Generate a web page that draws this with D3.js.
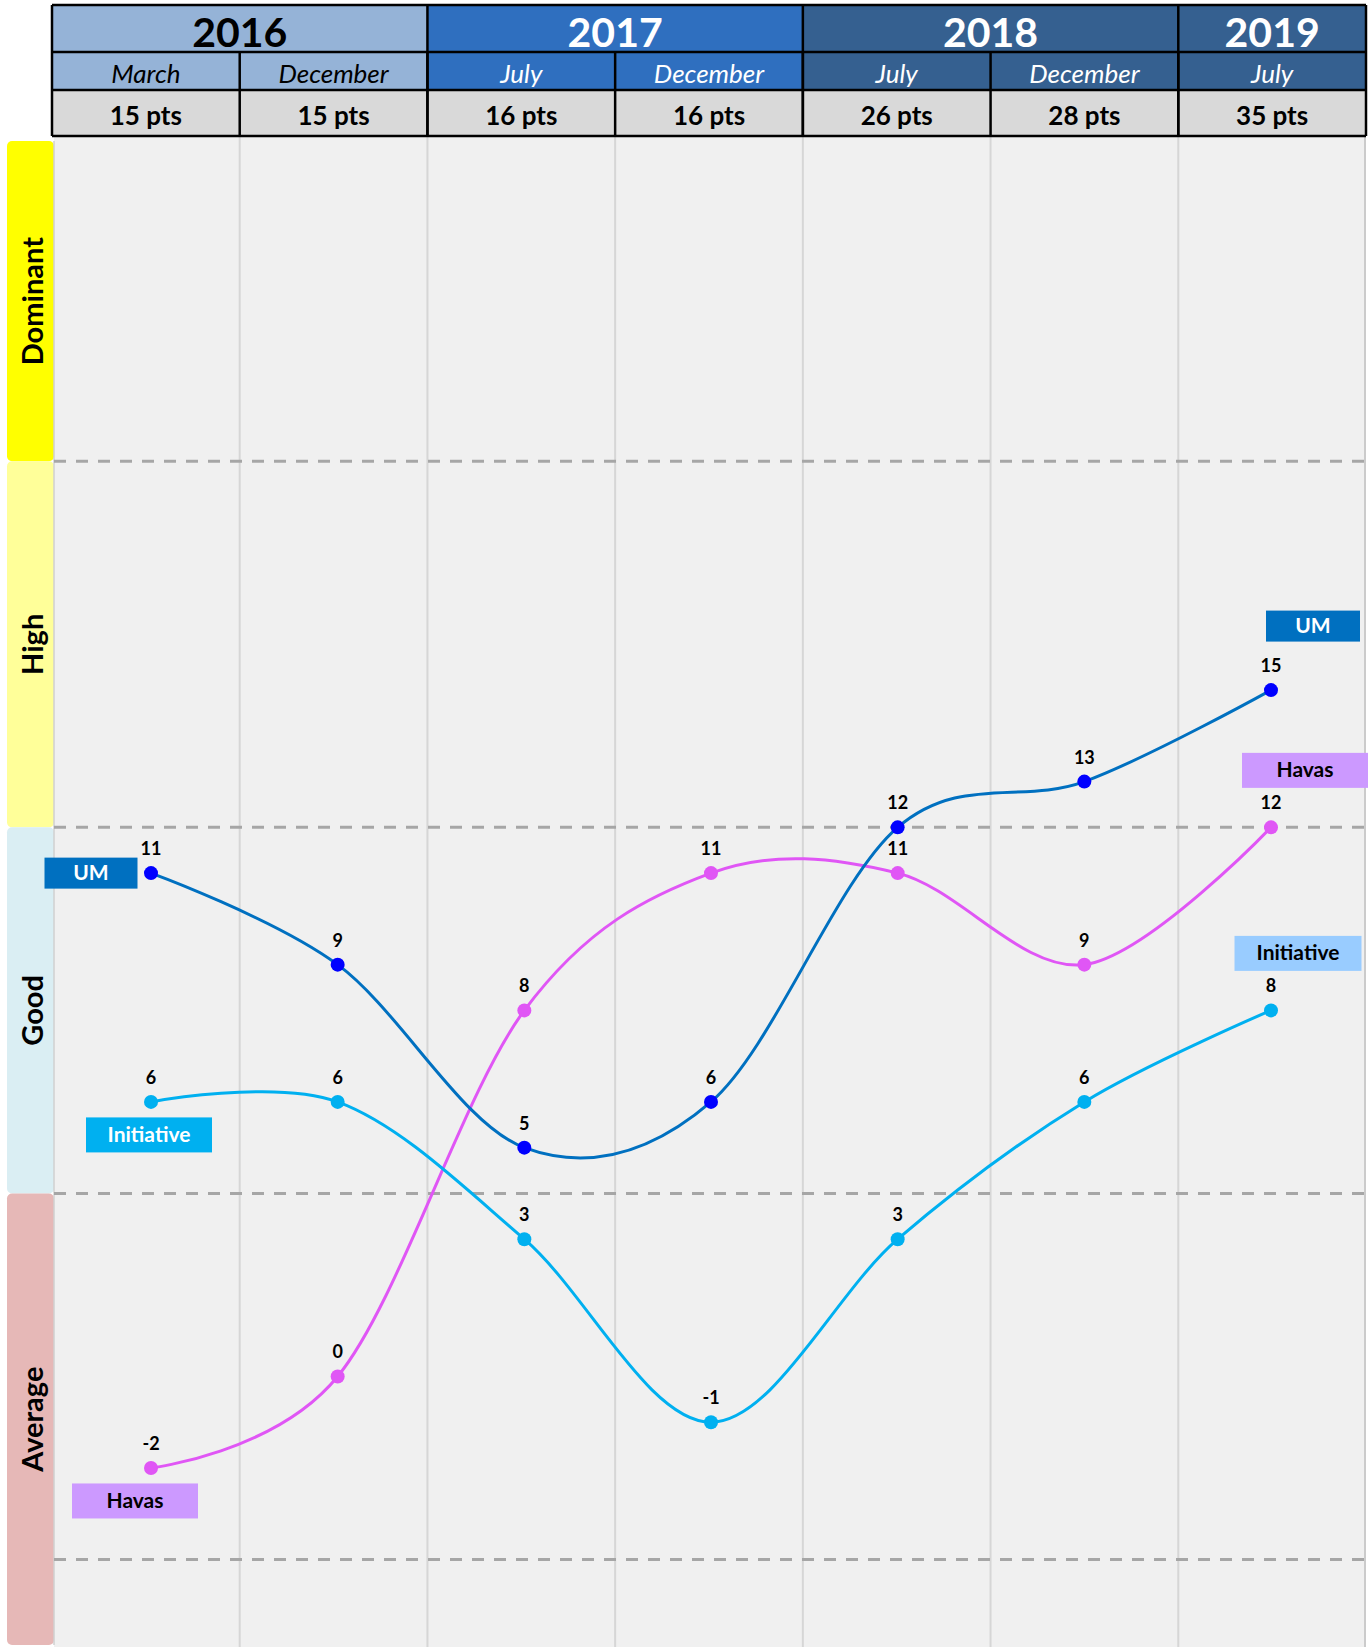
<!DOCTYPE html>
<html>
<head>
<meta charset="utf-8">
<script src="https://cdn.jsdelivr.net/npm/d3@7"></script>
<style>
  html, body { margin: 0; padding: 0; background: #ffffff; }
  svg { display: block; font-family: Lato, "Open Sans", "DejaVu Sans", sans-serif; }
</style>
</head>
<body>
<script>
// ---------------- DATA ----------------
const years = ["2016", "2017", "2018", "2019"];
const yearSpans = [2, 2, 2, 1];
const months = ["March", "December", "July", "December", "July", "December", "July"];
const points = [15, 15, 16, 16, 26, 28, 35];
const periods = ["2016-03", "2016-12", "2017-07", "2017-12", "2018-07", "2018-12", "2019-07"];

const umValues = [11, 9, 5, 6, 12, 13, 15];
const initiativeValues = [6, 6, 3, -1, 3, 6, 8];
const havasValues = [-2, 0, 8, 11, 11, 9, 12];

const bandNames = ["Dominant", "High", "Good", "Average"];
const bandUpper = [27, 20, 12, 4];
const bandLower = [20, 12, 4, -6];
const thresholds = [20, 12, 4, -4];

// ---------------- STYLE ----------------
const W = 1370, H = 1647;
const yearFill = ["#95B3D7", "#2F6FBF", "#356090", "#356090"];
const yearText = ["#000000", "#ffffff", "#ffffff", "#ffffff"];
const bandFill = ["#FFFF00", "#FFFF99", "#DAEEF3", "#E6B8B7"];

const series = [
  { name: "Havas", values: havasValues, line: "#E056F5", dot: "#E056F5",
    left: { box: "#CC99FF", text: "#000", w: 126, h: 35, dx: -16, dy: 33 },
    right: { box: "#CC99FF", text: "#000", w: 126, h: 35, dx: 34, dy: -57 } },
  { name: "Initiative", values: initiativeValues, line: "#00B0F0", dot: "#00B0F0",
    left: { box: "#00B0F0", text: "#fff", w: 126, h: 35, dx: -2, dy: 33 },
    right: { box: "#99CCFF", text: "#000", w: 127, h: 35, dx: 27, dy: -57 } },
  { name: "UM", values: umValues, line: "#0070C0", dot: "#0000FF",
    left: { box: "#0070C0", text: "#fff", w: 93, h: 31, dx: -60, dy: 0 },
    right: { box: "#0070C0", text: "#fff", w: 94, h: 31, dx: 42, dy: -64 } }
];

// ---------------- LAYOUT ----------------
const tableLeft = 52, tableRight = 1366;
const rowY = [5, 52, 90, 136];
const plotTop = 137, plotBottom = 1647;
const stripX0 = 7, stripX1 = 54;

const svg = d3.select("body").append("svg")
  .attr("width", W).attr("height", H);

const xCol = d3.scaleBand().domain(periods).range([tableLeft, tableRight]).padding(0);
const x = d3.scalePoint().domain(periods).range([151, 1271]);
const y = d3.scaleLinear().domain([-6, 27]).range([1651, 141]);

// plot background
svg.append("rect")
  .attr("x", stripX1).attr("y", plotTop)
  .attr("width", tableRight - stripX1).attr("height", plotBottom - plotTop)
  .attr("fill", "#F0F0F0");

// vertical grid lines at column boundaries
svg.append("g").selectAll("line")
  .data(periods.slice(1))
  .join("line")
  .attr("x1", d => xCol(d)).attr("x2", d => xCol(d))
  .attr("y1", plotTop).attr("y2", plotBottom)
  .attr("stroke", "#D6D6D6").attr("stroke-width", 2);

// right border of plot
svg.append("line")
  .attr("x1", tableRight - 1).attr("x2", tableRight - 1)
  .attr("y1", plotTop).attr("y2", plotBottom)
  .attr("stroke", "#BFBFBF").attr("stroke-width", 1.5);

// band strips
const bands = svg.append("g");
bandNames.forEach((name, i) => {
  const top = Math.max(plotTop + 1, y(bandUpper[i]));
  const bot = Math.min(plotBottom - 2, y(bandLower[i]));
  bands.append("rect")
    .attr("x", stripX0).attr("y", top)
    .attr("width", stripX1 - stripX0).attr("height", bot - top)
    .attr("rx", 5)
    .attr("fill", bandFill[i]);
  bands.append("line")
    .attr("x1", stripX1).attr("x2", stripX1)
    .attr("y1", top).attr("y2", bot)
    .attr("stroke", "#D0D0D0").attr("stroke-width", 1.5);
  bands.append("text")
    .attr("transform", `translate(43,${(top + bot) / 2}) rotate(-90)`)
    .attr("text-anchor", "middle")
    .attr("font-size", 29).attr("font-weight", 700)
    .attr("fill", "#000")
    .text(name);
});

// dashed threshold lines
svg.append("g").selectAll("line")
  .data(thresholds)
  .join("line")
  .attr("x1", stripX1).attr("x2", tableRight)
  .attr("y1", d => y(d)).attr("y2", d => y(d))
  .attr("stroke", "#A6A6A6").attr("stroke-width", 3)
  .attr("stroke-dasharray", "12 10");

// ---------------- HEADER ----------------
const header = svg.append("g");
// year row
let colIdx = 0;
years.forEach((yr, i) => {
  const x0 = xCol(periods[colIdx]);
  const x1 = xCol(periods[colIdx + yearSpans[i] - 1]) + xCol.bandwidth();
  header.append("rect")
    .attr("x", x0).attr("y", rowY[0])
    .attr("width", x1 - x0).attr("height", rowY[2] - rowY[0])
    .attr("fill", yearFill[i]);
  header.append("text")
    .attr("x", (x0 + x1) / 2).attr("y", rowY[1] - 5)
    .attr("text-anchor", "middle")
    .attr("font-size", 41).attr("font-weight", 700)
    .attr("fill", yearText[i])
    .text(yr);
  for (let k = 0; k < yearSpans[i]; k++) {
    const p = periods[colIdx + k];
    header.append("text")
      .attr("x", xCol(p) + xCol.bandwidth() / 2).attr("y", rowY[2] - 7)
      .attr("text-anchor", "middle")
      .attr("font-size", 26).attr("font-style", "italic")
      .attr("fill", yearText[i])
      .text(months[colIdx + k]);
  }
  colIdx += yearSpans[i];
});
// pts row
header.selectAll("rect.pts")
  .data(periods)
  .join("rect")
  .attr("class", "pts")
  .attr("x", d => xCol(d)).attr("y", rowY[2])
  .attr("width", xCol.bandwidth()).attr("height", rowY[3] - rowY[2])
  .attr("fill", "#D9D9D9");
header.selectAll("text.pts")
  .data(periods)
  .join("text")
  .attr("class", "pts")
  .attr("x", d => xCol(d) + xCol.bandwidth() / 2).attr("y", rowY[3] - 11)
  .attr("text-anchor", "middle")
  .attr("font-size", 26).attr("font-weight", 700)
  .attr("fill", "#000")
  .text((d, i) => points[i] + " pts");

// header borders
const bStroke = "#000", bW = 2.5;
rowY.forEach(ry => {
  header.append("line")
    .attr("x1", tableLeft).attr("x2", tableRight)
    .attr("y1", ry).attr("y2", ry)
    .attr("stroke", bStroke).attr("stroke-width", bW);
});
// outer verticals
[tableLeft, tableRight].forEach(bx => {
  header.append("line")
    .attr("x1", bx).attr("x2", bx)
    .attr("y1", rowY[0]).attr("y2", rowY[3])
    .attr("stroke", bStroke).attr("stroke-width", bW);
});
// year separators (full height)
colIdx = 0;
yearSpans.slice(0, -1).forEach(s => {
  colIdx += s;
  const bx = xCol(periods[colIdx]);
  header.append("line")
    .attr("x1", bx).attr("x2", bx)
    .attr("y1", rowY[0]).attr("y2", rowY[3])
    .attr("stroke", bStroke).attr("stroke-width", bW);
});
// month separators (lower rows)
periods.slice(1).forEach(p => {
  const bx = xCol(p);
  header.append("line")
    .attr("x1", bx).attr("x2", bx)
    .attr("y1", rowY[1]).attr("y2", rowY[3])
    .attr("stroke", bStroke).attr("stroke-width", bW);
});

// ---------------- SERIES ----------------
const line = d3.line()
  .x((d, i) => x(periods[i]))
  .y(d => y(d))
  .curve(d3.curveCardinal.tension(0));

const gSeries = svg.append("g");
series.forEach(s => {
  gSeries.append("path")
    .attr("d", line(s.values))
    .attr("fill", "none")
    .attr("stroke", s.line)
    .attr("stroke-width", 3);
});
series.forEach(s => {
  gSeries.append("g").selectAll("circle")
    .data(s.values)
    .join("circle")
    .attr("cx", (d, i) => x(periods[i]))
    .attr("cy", d => y(d))
    .attr("r", 7)
    .attr("fill", s.dot);
  gSeries.append("g").selectAll("text")
    .data(s.values)
    .join("text")
    .attr("x", (d, i) => x(periods[i]))
    .attr("y", d => y(d) - 18)
    .attr("text-anchor", "middle")
    .attr("font-size", 18).attr("font-weight", 700)
    .attr("fill", "#000")
    .text(d => d);
});

// series name boxes
series.forEach(s => {
  [["left", 0], ["right", s.values.length - 1]].forEach(([side, idx]) => {
    const c = s[side];
    const cx = x(periods[idx]) + c.dx;
    const cy = y(s.values[idx]) + c.dy;
    const g = gSeries.append("g");
    g.append("rect")
      .attr("x", cx - c.w / 2).attr("y", cy - c.h / 2)
      .attr("width", c.w).attr("height", c.h)
      .attr("fill", c.box);
    g.append("text")
      .attr("x", cx).attr("y", cy + 7)
      .attr("text-anchor", "middle")
      .attr("font-size", 21).attr("font-weight", 700)
      .attr("fill", c.text)
      .text(s.name);
  });
});
</script>
</body>
</html>
